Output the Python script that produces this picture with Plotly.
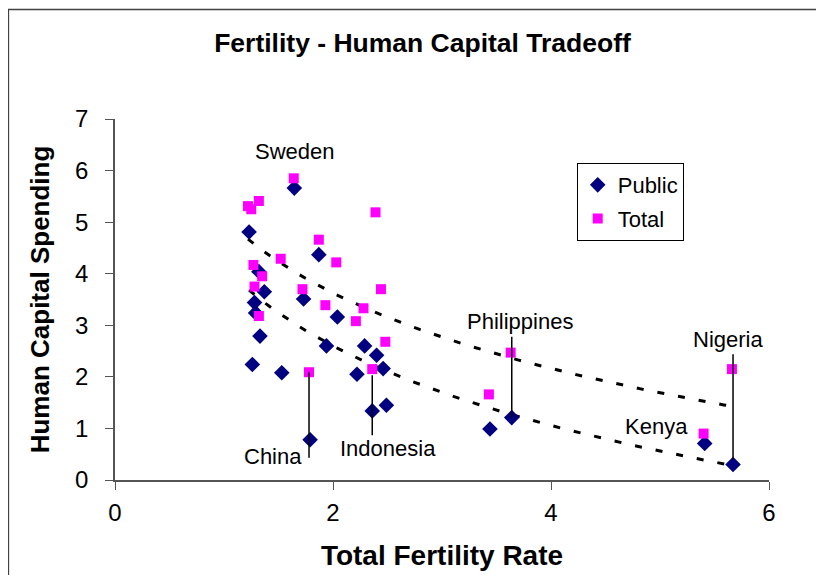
import numpy as np
import plotly.graph_objects as go

# ── data ────────────────────────────────────────────────────────────────────

public_tfr = [1.645, 1.23, 1.87, 1.32, 1.37, 1.28, 1.73, 1.29, 2.04, 1.33, 1.94, 2.29,
              2.40, 1.26, 1.53, 2.22, 2.46, 2.49, 2.36, 1.79, 3.64, 3.44, 5.41, 5.67]
public_spend = [5.66, 4.81, 4.37, 4.04, 3.65, 3.44, 3.51, 3.24, 3.16, 2.79, 2.60, 2.60,
                2.42, 2.24, 2.08, 2.05, 2.16, 1.45, 1.34, 0.78, 1.21, 0.99, 0.71, 0.30]

total_tfr = [1.64, 1.22, 1.32, 1.25, 2.39, 1.87, 1.52, 2.03, 1.27, 1.35, 1.28, 1.72,
             2.44, 1.93, 2.28, 1.32, 2.21, 2.48, 1.78, 2.36, 3.63, 3.43, 5.40, 5.66]
total_spend = [5.85, 5.31, 5.41, 5.25, 5.19, 4.66, 4.29, 4.22, 4.17, 3.95, 3.75, 3.70,
               3.70, 3.39, 3.33, 3.18, 3.08, 2.68, 2.09, 2.15, 2.47, 1.66, 0.90, 2.15]

# ── style ────────────────────────────────────────────────────────────────────

NAVY = "#000080"
MAGENTA = "#FF00FF"
FONT = "Liberation Sans, Arial, sans-serif"


def log_trend(x, y):
    # Excel-style logarithmic trendline: y = a + b*ln(x)
    x = np.asarray(x)
    b, a = np.polyfit(np.log(x), np.asarray(y), 1)
    xs = np.linspace(x.min(), x.max(), 60)
    return xs, a + b * np.log(xs)


fig = go.Figure()

for xs_, ys_ in (log_trend(total_tfr, total_spend), log_trend(public_tfr, public_spend)):
    fig.add_trace(go.Scatter(
        x=xs_, y=ys_, mode="lines", showlegend=False, hoverinfo="skip",
        line=dict(color="black", width=3, dash="7px,14px"),
    ))

fig.add_trace(go.Scatter(
    name="Public", x=public_tfr, y=public_spend, mode="markers", legendgroup="p",
    marker=dict(symbol="diamond", size=12, color=NAVY),
))
fig.add_trace(go.Scatter(
    name="Total", x=total_tfr, y=total_spend, mode="markers", legendgroup="t",
    marker=dict(symbol="square", size=10, color=MAGENTA),
))

# leader lines: (x of the country, from y, to y)
leaders = [
    (total_tfr[18], total_spend[18], 0.43),   # China
    (total_tfr[19], total_spend[19] - 0.12, 0.87),  # Indonesia
    (public_tfr[20], 2.78, public_spend[20]),  # Philippines
    (public_tfr[23], 2.44, public_spend[23] + 0.1),  # Nigeria
]
for lx, y0, y1 in leaders:
    fig.add_shape(type="line", x0=lx, x1=lx, y0=y0, y1=y1, xref="x", yref="y",
                  line=dict(color="black", width=1.5))

labels = [
    ("Sweden", 1.65, 6.37),
    ("Philippines", 3.72, 3.08),
    ("Nigeria", 5.62, 2.73),
    ("Kenya", 4.97, 1.03),
    ("China", 1.45, 0.45),
    ("Indonesia", 2.50, 0.62),
]
for text, ax_, ay_ in labels:
    fig.add_annotation(x=ax_, y=ay_, text=text, showarrow=False,
                       font=dict(family=FONT, size=22, color="black"))

# outer chart border
fig.add_shape(type="rect", xref="paper", yref="paper",
              x0=-0.163, x1=1.081, y0=-0.40, y1=1.303,
              line=dict(color="#404040", width=1.5))

# page body has an 8px margin, so the figure is drawn 8px smaller and offset
fig.update_layout(
    width=816, height=567,
    paper_bgcolor="white", plot_bgcolor="white",
    margin=dict(l=107, r=55, t=111, b=95),
    font=dict(family=FONT, color="black"),
    title=dict(text="<b>Fertility - Human Capital Tradeoff</b>",
               font=dict(family=FONT, size=26.5, color="black"),
               x=0.508, xanchor="center", y=0.938, yanchor="middle"),
    showlegend=True,
    legend=dict(
        x=0.706, y=0.878, xanchor="left", yanchor="top",
        bordercolor="black", borderwidth=1, bgcolor="white",
        font=dict(family=FONT, size=22, color="black"),
        tracegroupgap=2, itemwidth=30,
    ),
    xaxis=dict(
        range=[0, 6], dtick=2, showgrid=False, zeroline=False, automargin=False,
        showline=True, linecolor="#555555", linewidth=1.5,
        ticks="outside", ticklen=8, tickcolor="#555555",
        tickfont=dict(family=FONT, size=24), ticklabelstandoff=2,
        title=dict(text="<b>Total Fertility Rate</b>",
                   font=dict(family=FONT, size=28), standoff=21),
    ),
    yaxis=dict(
        range=[0, 7], dtick=1, showgrid=False, zeroline=False, automargin=False,
        showline=True, linecolor="#555555", linewidth=1.5,
        ticks="outside", ticklen=8, tickcolor="#555555",
        tickfont=dict(family=FONT, size=24), ticklabelstandoff=12,
        title=dict(text="<b>Human Capital Spending</b>",
                   font=dict(family=FONT, size=26), standoff=18),
    ),
)

fig.write_html("out.html")
